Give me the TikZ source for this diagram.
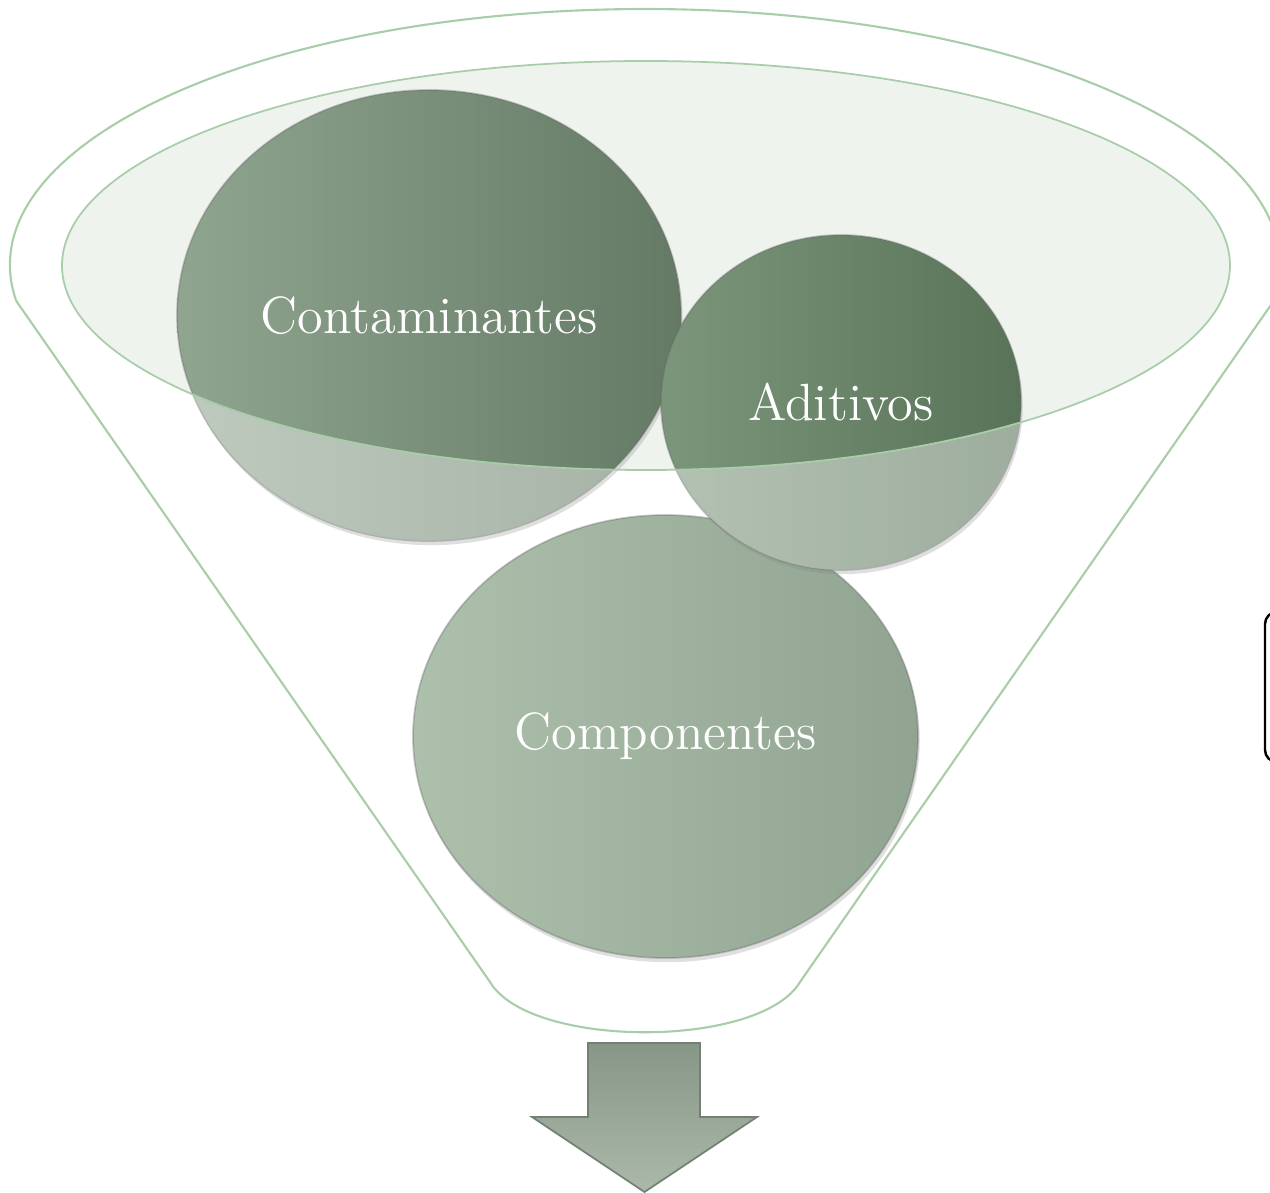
\documentclass[tikz,border=0pt]{standalone}
\usetikzlibrary{shapes.geometric,shadows}
\definecolor{rimgreen}{HTML}{A9CDA9}
\definecolor{mouthfill}{HTML}{EEF3EE}
\definecolor{contlite}{HTML}{8FA58F}
\definecolor{contdark}{HTML}{647A64}
\definecolor{aditlite}{HTML}{7C967C}
\definecolor{aditdark}{HTML}{587358}
\definecolor{complite}{HTML}{ACC0AC}
\definecolor{compdark}{HTML}{91A491}
\definecolor{arrowlite}{HTML}{ABB9AB}
\definecolor{arrowdark}{HTML}{879687}

\begin{document}
\begin{tikzpicture}[font=\fontsize{14.9}{17}\selectfont]
%% the funnel is drawn in cm, 1 px of the source = 0.01 cm
%% the ellipse radii of the balls can be tuned with minimum width/height
\tikzstyle{funnelline}=[draw=rimgreen, line width=0.6pt]
\tikzstyle{ball}=[ellipse, inner sep=0pt, outer sep=0pt, text=white, draw=black!60, draw opacity=0.35, line width=0.5pt, drop shadow={shadow xshift=0.5pt, shadow yshift=-1.2pt, opacity=0.25}]
\tikzstyle{lowshade}=[white, fill opacity=0.42, even odd rule]
\tikzstyle{blockarrow}=[top color=arrowdark, bottom color=arrowlite, draw=arrowdark!85!black, line width=0.5pt]
%% TikZ-figure elements %%
\useasboundingbox (0,0) rectangle (12.70,-11.93);
\coordinate (mouth) at (6.46,-2.655);
%% mouth of the funnel
\fill[mouthfill] (mouth) ellipse [x radius=5.84, y radius=2.045];
%% outline of the funnel
\draw[funnelline] (0.163,-3.01) arc [start angle=188.08, end angle=-8.08, x radius=6.35, y radius=2.56]
  -- (8.00,-9.82) .. controls (7.60,-10.49) and (5.30,-10.49) .. (4.90,-9.82) -- cycle;
%% balls
\node[ball, minimum width=5.05cm, minimum height=4.43cm, left color=complite, right color=compdark] at (6.655,-7.365) (Comp) {Componentes};
\node[ball, minimum width=5.04cm, minimum height=4.51cm, left color=contlite, right color=contdark] at (4.29,-3.155) (Cont) {Contaminantes};
%% lower part of Cont is seen through the funnel
\begin{scope}
\clip (Cont.center) ellipse [x radius=2.52, y radius=2.255];
\fill[lowshade] (0,0) rectangle (12.70,-11.93) (mouth) ellipse [x radius=5.84, y radius=2.045];
\end{scope}
\node[ball, minimum width=3.60cm, minimum height=3.35cm, left color=aditlite, right color=aditdark] at (8.41,-4.025) (Adit) {Aditivos};
%% lower part of Adit is seen through the funnel
\begin{scope}
\clip (Adit.center) ellipse [x radius=1.80, y radius=1.675];
\fill[lowshade] (0,0) rectangle (12.70,-11.93) (mouth) ellipse [x radius=5.84, y radius=2.045];
\end{scope}
%% rim of the mouth, on top of the balls
\draw[funnelline, line width=0.5pt] (mouth) ellipse [x radius=5.84, y radius=2.045];
%% arrow under the funnel
\shade[blockarrow] (5.88,-10.43) -- (7.00,-10.43) -- (7.00,-11.17) -- (7.57,-11.17)
  -- (6.445,-11.92) -- (5.32,-11.17) -- (5.88,-11.17) -- cycle;
%% box at the right border
\draw[line width=0.7pt, rounded corners=0.12cm] (12.65,-6.12) rectangle (13.50,-7.62);
\end{tikzpicture}
\end{document}
